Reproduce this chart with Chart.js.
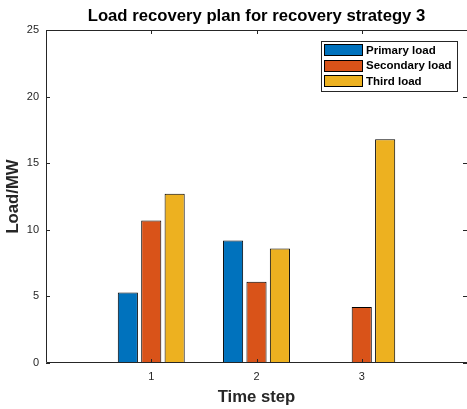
<!DOCTYPE html>
<html>
<head>
<meta charset="utf-8">
<script src="https://cdn.jsdelivr.net/npm/chart.js@4/dist/chart.umd.min.js"></script>
<style>
  html, body { margin: 0; padding: 0; background: #fff; }
</style>
</head>
<body>
<canvas id="chart" width="467" height="409"></canvas>
<script>
// x 축: 시간 단계
const timeSteps = [1, 2, 3];
// 단계별 복구 부하 (MW)
const primaryLoad = [5.3, 9.2, 0];
const secondaryLoad = [10.7, 6.1, 4.2];
const thirdLoad = [12.7, 8.6, 16.8];
const seriesNames = ["Primary load", "Secondary load", "Third load"];
const yTicks = [0, 5, 10, 15, 20, 25];

const FONT = "'Liberation Sans', Arial, Helvetica, sans-serif";
const AXIS = "#262626";

const toPoints = (vals) => vals.map((v, i) => ({ x: timeSteps[i], y: v }));

// matlab 스타일 박스 + 안쪽 눈금 + 범례
const matlabBox = {
  id: "matlabBox",
  afterDraw(chart) {
    const { ctx, chartArea: a, scales } = chart;
    ctx.save();
    ctx.strokeStyle = AXIS;
    ctx.lineWidth = 1;
    // 오른쪽 테두리는 캔버스 밖이라 안 그림
    ctx.beginPath();
    ctx.moveTo(a.right, a.top + 0.5);
    ctx.lineTo(a.left + 0.5, a.top + 0.5);
    ctx.lineTo(a.left + 0.5, a.bottom - 0.5);
    ctx.lineTo(a.right, a.bottom - 0.5);
    ctx.stroke();

    const len = 4;
    ctx.beginPath();
    scales.x.ticks.forEach((t) => {
      const px = Math.round(scales.x.getPixelForValue(t.value)) + 0.5;
      ctx.moveTo(px, a.bottom); ctx.lineTo(px, a.bottom - len);
      ctx.moveTo(px, a.top); ctx.lineTo(px, a.top + len);
    });
    scales.y.ticks.forEach((t) => {
      const py = Math.round(scales.y.getPixelForValue(t.value)) + 0.5;
      ctx.moveTo(a.left, py); ctx.lineTo(a.left + len, py);
      ctx.moveTo(a.right, py); ctx.lineTo(a.right - len, py);
    });
    ctx.stroke();

    // 범례
    const sets = chart.data.datasets;
    ctx.font = "bold 11.5px " + FONT;
    const maxW = Math.max(...sets.map((d) => ctx.measureText(d.label).width));
    const swW = 39, swH = 12, rowH = 15.7;
    const right = Math.round(a.right - 10);
    const left = Math.round(right - (3 + swW + 3 + maxW + 5));
    const top = a.top + 11;
    const bottom = top + 50;
    ctx.fillStyle = "#fff";
    ctx.fillRect(left, top, right - left, bottom - top);
    ctx.strokeStyle = AXIS;
    ctx.strokeRect(left + 0.5, top + 0.5, right - left, bottom - top);
    sets.forEach((d, i) => {
      const cy = top + 9 + i * rowH;
      const sx = left + 3;
      ctx.fillStyle = d.backgroundColor;
      ctx.fillRect(sx, Math.round(cy - swH / 2), swW, swH);
      ctx.strokeStyle = "#000";
      ctx.strokeRect(sx + 0.5, Math.round(cy - swH / 2) + 0.5, swW - 1, swH - 1);
      ctx.fillStyle = "#000";
      ctx.textBaseline = "middle";
      ctx.textAlign = "left";
      ctx.fillText(d.label, sx + swW + 3, cy + 0.5);
    });
    ctx.restore();
  },
};

const barStyle = { borderColor: "#000", borderWidth: 1, borderSkipped: false };

new Chart(document.querySelector("#chart"), {
  type: "bar",
  data: {
    datasets: [
      { label: seriesNames[0], data: toPoints(primaryLoad), backgroundColor: "#0072BD", ...barStyle },
      { label: seriesNames[1], data: toPoints(secondaryLoad), backgroundColor: "#D95319", ...barStyle },
      { label: seriesNames[2], data: toPoints(thirdLoad), backgroundColor: "#EDB120", ...barStyle },
    ],
  },
  options: {
    responsive: false,
    animation: false,
    devicePixelRatio: 1,
    categoryPercentage: 0.667,
    barPercentage: 0.86,
    layout: { padding: 0 },
    plugins: {
      legend: { display: false },
      tooltip: { enabled: false },
      title: {
        display: true,
        fullSize: false,
        text: "Load recovery plan for recovery strategy 3",
        color: "#000",
        font: { family: FONT, size: 16.7, weight: "bold", lineHeight: "20px" },
        padding: { top: 6.5, bottom: 3.5 },
      },
    },
    scales: {
      x: {
        type: "linear",
        min: 0,
        max: 4,
        offset: false,
        afterBuildTicks: (s) => { s.ticks = timeSteps.map((v) => ({ value: v })); },
        afterFit: (s) => { s.height = 46; },
        grid: { display: false, drawTicks: false, offset: false },
        border: { display: false },
        ticks: { color: AXIS, padding: 7, font: { family: FONT, size: 11 }, maxRotation: 0 },
        title: {
          display: true,
          text: "Time step",
          color: AXIS,
          font: { family: FONT, size: 16.7, weight: "bold", lineHeight: "20px" },
          padding: { top: 0, bottom: 1.5 },
        },
      },
      y: {
        min: 0,
        max: 25,
        afterBuildTicks: (s) => { s.ticks = yTicks.map((v) => ({ value: v })); },
        afterFit: (s) => { s.width = 46; },
        grid: { display: false, drawTicks: false },
        border: { display: false },
        ticks: { color: AXIS, padding: 7, font: { family: FONT, size: 11 } },
        title: {
          display: true,
          text: "Load/MW",
          color: AXIS,
          font: { family: FONT, size: 16.7, weight: "bold", lineHeight: "20px" },
          padding: { top: 3.5, bottom: 0 },
        },
      },
    },
  },
  plugins: [matlabBox],
});
</script>
</body>
</html>
